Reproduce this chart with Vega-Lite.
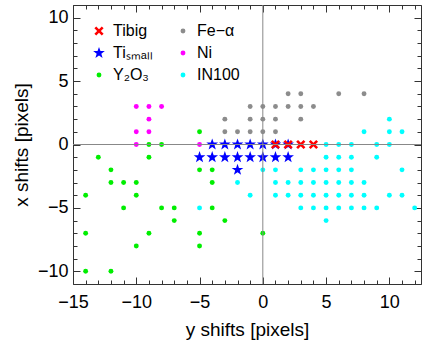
{
  "$schema": "https://vega.github.io/schema/vega-lite/v6.json",
  "width": 348,
  "height": 279,
  "autosize": {"type": "none"},
  "padding": {"left": 73, "top": 5, "right": 3, "bottom": 58},
  "background": "white",
  "config": {
    "font": "Liberation Sans",
    "view": {"stroke": null},
    "axis": {"grid": false, "domainColor": "#333333", "tickColor": "#333333", "labelColor": "#000000", "titleColor": "#000000", "labelFontSize": 18, "titleFontSize": 19, "titleFontWeight": "normal", "labelFlush": false, "labelOverlap": false, "domainWidth": 1, "tickWidth": 1}
  },
  "data": {
    "values": [
      {"yshift": -9, "xshift": 0, "series": "Y₂O₃"},
      {"yshift": -8, "xshift": 0, "series": "Y₂O₃"},
      {"yshift": -5, "xshift": 1, "series": "Y₂O₃"},
      {"yshift": -13, "xshift": -1, "series": "Y₂O₃"},
      {"yshift": -9, "xshift": -1, "series": "Y₂O₃"},
      {"yshift": -12, "xshift": -2, "series": "Y₂O₃"},
      {"yshift": -5, "xshift": -2, "series": "Y₂O₃"},
      {"yshift": -4, "xshift": -2, "series": "Y₂O₃"},
      {"yshift": -12, "xshift": -3, "series": "Y₂O₃"},
      {"yshift": -11, "xshift": -3, "series": "Y₂O₃"},
      {"yshift": -10, "xshift": -3, "series": "Y₂O₃"},
      {"yshift": -4, "xshift": -3, "series": "Y₂O₃"},
      {"yshift": -14, "xshift": -4, "series": "Y₂O₃"},
      {"yshift": -10, "xshift": -4, "series": "Y₂O₃"},
      {"yshift": -11, "xshift": -5, "series": "Y₂O₃"},
      {"yshift": -8, "xshift": -5, "series": "Y₂O₃"},
      {"yshift": -7, "xshift": -5, "series": "Y₂O₃"},
      {"yshift": -4, "xshift": -5, "series": "Y₂O₃"},
      {"yshift": -7, "xshift": -6, "series": "Y₂O₃"},
      {"yshift": -3, "xshift": -6, "series": "Y₂O₃"},
      {"yshift": -14, "xshift": -7, "series": "Y₂O₃"},
      {"yshift": -9, "xshift": -7, "series": "Y₂O₃"},
      {"yshift": -5, "xshift": -7, "series": "Y₂O₃"},
      {"yshift": 0, "xshift": -7, "series": "Y₂O₃"},
      {"yshift": -10, "xshift": -8, "series": "Y₂O₃"},
      {"yshift": -5, "xshift": -8, "series": "Y₂O₃"},
      {"yshift": -14, "xshift": -10, "series": "Y₂O₃"},
      {"yshift": -12, "xshift": -10, "series": "Y₂O₃"},
      {"yshift": -10, "xshift": 3, "series": "Ni"},
      {"yshift": -9, "xshift": 3, "series": "Ni"},
      {"yshift": -8, "xshift": 3, "series": "Ni"},
      {"yshift": -9, "xshift": 2, "series": "Ni"},
      {"yshift": -10, "xshift": 1, "series": "Ni"},
      {"yshift": -9, "xshift": 1, "series": "Ni"},
      {"yshift": -10, "xshift": 0, "series": "Ni"},
      {"yshift": -5, "xshift": 0, "series": "Ni"},
      {"yshift": 2, "xshift": 4, "series": "Fe−α"},
      {"yshift": 3, "xshift": 4, "series": "Fe−α"},
      {"yshift": 6, "xshift": 4, "series": "Fe−α"},
      {"yshift": 8, "xshift": 4, "series": "Fe−α"},
      {"yshift": -1, "xshift": 3, "series": "Fe−α"},
      {"yshift": 0, "xshift": 3, "series": "Fe−α"},
      {"yshift": 1, "xshift": 3, "series": "Fe−α"},
      {"yshift": 2, "xshift": 3, "series": "Fe−α"},
      {"yshift": 3, "xshift": 3, "series": "Fe−α"},
      {"yshift": 4, "xshift": 3, "series": "Fe−α"},
      {"yshift": -3, "xshift": 2, "series": "Fe−α"},
      {"yshift": -1, "xshift": 2, "series": "Fe−α"},
      {"yshift": 0, "xshift": 2, "series": "Fe−α"},
      {"yshift": 1, "xshift": 2, "series": "Fe−α"},
      {"yshift": 3, "xshift": 2, "series": "Fe−α"},
      {"yshift": -3, "xshift": 1, "series": "Fe−α"},
      {"yshift": -2, "xshift": 1, "series": "Fe−α"},
      {"yshift": -1, "xshift": 1, "series": "Fe−α"},
      {"yshift": 0, "xshift": 1, "series": "Fe−α"},
      {"yshift": 1, "xshift": 1, "series": "Fe−α"},
      {"yshift": 10, "xshift": 2, "series": "IN100"},
      {"yshift": 8, "xshift": 1, "series": "IN100"},
      {"yshift": 10, "xshift": 1, "series": "IN100"},
      {"yshift": 11, "xshift": 1, "series": "IN100"},
      {"yshift": 5, "xshift": 0, "series": "IN100"},
      {"yshift": 6, "xshift": 0, "series": "IN100"},
      {"yshift": 7, "xshift": 0, "series": "IN100"},
      {"yshift": 9, "xshift": 0, "series": "IN100"},
      {"yshift": 10, "xshift": 0, "series": "IN100"},
      {"yshift": 5, "xshift": -1, "series": "IN100"},
      {"yshift": 6, "xshift": -1, "series": "IN100"},
      {"yshift": 7, "xshift": -1, "series": "IN100"},
      {"yshift": 9, "xshift": -1, "series": "IN100"},
      {"yshift": 0, "xshift": -2, "series": "IN100"},
      {"yshift": 1, "xshift": -2, "series": "IN100"},
      {"yshift": 3, "xshift": -2, "series": "IN100"},
      {"yshift": 4, "xshift": -2, "series": "IN100"},
      {"yshift": 5, "xshift": -2, "series": "IN100"},
      {"yshift": 6, "xshift": -2, "series": "IN100"},
      {"yshift": 7, "xshift": -2, "series": "IN100"},
      {"yshift": 11, "xshift": -2, "series": "IN100"},
      {"yshift": -2, "xshift": -3, "series": "IN100"},
      {"yshift": 1, "xshift": -3, "series": "IN100"},
      {"yshift": 2, "xshift": -3, "series": "IN100"},
      {"yshift": 3, "xshift": -3, "series": "IN100"},
      {"yshift": 4, "xshift": -3, "series": "IN100"},
      {"yshift": 5, "xshift": -3, "series": "IN100"},
      {"yshift": 6, "xshift": -3, "series": "IN100"},
      {"yshift": 7, "xshift": -3, "series": "IN100"},
      {"yshift": 8, "xshift": -3, "series": "IN100"},
      {"yshift": -1, "xshift": -4, "series": "IN100"},
      {"yshift": 1, "xshift": -4, "series": "IN100"},
      {"yshift": 2, "xshift": -4, "series": "IN100"},
      {"yshift": 3, "xshift": -4, "series": "IN100"},
      {"yshift": 4, "xshift": -4, "series": "IN100"},
      {"yshift": 5, "xshift": -4, "series": "IN100"},
      {"yshift": 6, "xshift": -4, "series": "IN100"},
      {"yshift": 7, "xshift": -4, "series": "IN100"},
      {"yshift": 8, "xshift": -4, "series": "IN100"},
      {"yshift": 10, "xshift": -4, "series": "IN100"},
      {"yshift": 11, "xshift": -4, "series": "IN100"},
      {"yshift": -5, "xshift": -5, "series": "IN100"},
      {"yshift": 3, "xshift": -5, "series": "IN100"},
      {"yshift": 4, "xshift": -5, "series": "IN100"},
      {"yshift": 5, "xshift": -5, "series": "IN100"},
      {"yshift": 6, "xshift": -5, "series": "IN100"},
      {"yshift": 7, "xshift": -5, "series": "IN100"},
      {"yshift": 8, "xshift": -5, "series": "IN100"},
      {"yshift": 9, "xshift": -5, "series": "IN100"},
      {"yshift": 12, "xshift": -5, "series": "IN100"},
      {"yshift": 5, "xshift": -6, "series": "IN100"},
      {"yshift": -4, "xshift": 0, "series": "Tiₛₘₐₗₗ"},
      {"yshift": -3, "xshift": 0, "series": "Tiₛₘₐₗₗ"},
      {"yshift": -2, "xshift": 0, "series": "Tiₛₘₐₗₗ"},
      {"yshift": -1, "xshift": 0, "series": "Tiₛₘₐₗₗ"},
      {"yshift": 0, "xshift": 0, "series": "Tiₛₘₐₗₗ"},
      {"yshift": 1, "xshift": 0, "series": "Tiₛₘₐₗₗ"},
      {"yshift": 2, "xshift": 0, "series": "Tiₛₘₐₗₗ"},
      {"yshift": -5, "xshift": -1, "series": "Tiₛₘₐₗₗ"},
      {"yshift": -4, "xshift": -1, "series": "Tiₛₘₐₗₗ"},
      {"yshift": -3, "xshift": -1, "series": "Tiₛₘₐₗₗ"},
      {"yshift": -2, "xshift": -1, "series": "Tiₛₘₐₗₗ"},
      {"yshift": -1, "xshift": -1, "series": "Tiₛₘₐₗₗ"},
      {"yshift": 0, "xshift": -1, "series": "Tiₛₘₐₗₗ"},
      {"yshift": 1, "xshift": -1, "series": "Tiₛₘₐₗₗ"},
      {"yshift": 2, "xshift": -1, "series": "Tiₛₘₐₗₗ"},
      {"yshift": -2, "xshift": -2, "series": "Tiₛₘₐₗₗ"},
      {"yshift": 1, "xshift": 0, "series": "Tibig"},
      {"yshift": 2, "xshift": 0, "series": "Tibig"},
      {"yshift": 3, "xshift": 0, "series": "Tibig"},
      {"yshift": 4, "xshift": 0, "series": "Tibig"}
    ]
  },
  "resolve": {"axis": {"x": "independent", "y": "independent"}},
  "layer": [
    {
      "mark": {"type": "point", "filled": true, "opacity": 1, "strokeWidth": 0},
      "encoding": {
        "x": {
          "field": "yshift", "type": "quantitative",
          "scale": {"domain": [-15, 12.5], "nice": false, "zero": false},
          "axis": {
            "orient": "bottom", "title": "y shifts [pixels]",
            "values": [-15, -14, -13, -12, -11, -10, -9, -8, -7, -6, -5, -4, -3, -2, -1, 0, 1, 2, 3, 4, 5, 6, 7, 8, 9, 10, 11, 12],
            "labelExpr": "datum.value % 5 === 0 ? datum.label : ''",
            "tickSize": {"condition": {"test": "datum.value % 5 === 0", "value": -7}, "value": -4},
            "labelPadding": 16, "titlePadding": 6
          }
        },
        "y": {
          "field": "xshift", "type": "quantitative",
          "scale": {"domain": [-11, 11], "nice": false, "zero": false},
          "axis": {
            "orient": "left", "title": "x shifts [pixels]",
            "values": [-11, -10, -9, -8, -7, -6, -5, -4, -3, -2, -1, 0, 1, 2, 3, 4, 5, 6, 7, 8, 9, 10, 11],
            "labelExpr": "datum.value % 5 === 0 ? datum.label : ''",
            "tickSize": {"condition": {"test": "datum.value % 5 === 0", "value": -7}, "value": -4},
            "labelPadding": 12, "titlePadding": 6
          }
        },
        "color": {
          "field": "series", "type": "nominal",
          "scale": {"domain": ["Tibig", "Tiₛₘₐₗₗ", "Y₂O₃", "Fe−α", "Ni", "IN100"], "range": ["#ff0000", "#0000ff", "#00ee00", "#8c8c8c", "#ff00ff", "#00ffff"]},
          "legend": {"orient": "none", "legendX": 18, "legendY": 18, "columns": 2, "title": null, "labelFontSize": 16, "labelColor": "#000000", "columnPadding": 22, "rowPadding": 6, "labelOffset": 6, "padding": 0, "symbolStrokeWidth": 0}
        },
        "shape": {
          "field": "series", "type": "nominal",
          "scale": {"domain": ["Tibig", "Tiₛₘₐₗₗ", "Y₂O₃", "Fe−α", "Ni", "IN100"], "range": ["M-1,-0.6L-0.6,-1L0,-0.4L0.6,-1L1,-0.6L0.4,0L1,0.6L0.6,1L0,0.4L-0.6,1L-1,0.6L-0.4,0Z", "M0,-1L0.235,-0.324L0.951,-0.309L0.38,0.124L0.588,0.809L0,0.4L-0.588,0.809L-0.38,0.124L-0.951,-0.309L-0.235,-0.324Z", "circle", "circle", "circle", "circle"]},
          "legend": {"orient": "none", "legendX": 18, "legendY": 18, "columns": 2, "title": null, "labelFontSize": 16, "labelColor": "#000000", "columnPadding": 22, "rowPadding": 6, "labelOffset": 6, "padding": 0, "symbolStrokeWidth": 0}
        },
        "size": {
          "field": "series", "type": "nominal",
          "scale": {"type": "ordinal", "domain": ["Tibig", "Tiₛₘₐₗₗ", "Y₂O₃", "Fe−α", "Ni", "IN100"], "range": [85, 150, 24, 24, 24, 24]},
          "legend": {"orient": "none", "legendX": 18, "legendY": 18, "columns": 2, "title": null, "labelFontSize": 16, "labelColor": "#000000", "columnPadding": 22, "rowPadding": 6, "labelOffset": 6, "padding": 0, "symbolStrokeWidth": 0}
        }
      }
    },
    {
      "data": {"values": [{}]},
      "mark": {"type": "rule", "color": "#888888", "strokeWidth": 1},
      "encoding": {
        "x": {
          "datum": 0, "type": "quantitative",
          "axis": {
            "orient": "top", "title": null, "labels": false,
            "values": [-15, -14, -13, -12, -11, -10, -9, -8, -7, -6, -5, -4, -3, -2, -1, 0, 1, 2, 3, 4, 5, 6, 7, 8, 9, 10, 11, 12],
            "tickSize": {"condition": {"test": "datum.value % 5 === 0", "value": -7}, "value": -4}
          }
        }
      }
    },
    {
      "data": {"values": [{}]},
      "mark": {"type": "rule", "color": "#888888", "strokeWidth": 1},
      "encoding": {
        "y": {
          "datum": 0, "type": "quantitative",
          "axis": {
            "orient": "right", "title": null, "labels": false,
            "values": [-11, -10, -9, -8, -7, -6, -5, -4, -3, -2, -1, 0, 1, 2, 3, 4, 5, 6, 7, 8, 9, 10, 11],
            "tickSize": {"condition": {"test": "datum.value % 5 === 0", "value": -7}, "value": -4}
          }
        }
      }
    }
  ]
}
